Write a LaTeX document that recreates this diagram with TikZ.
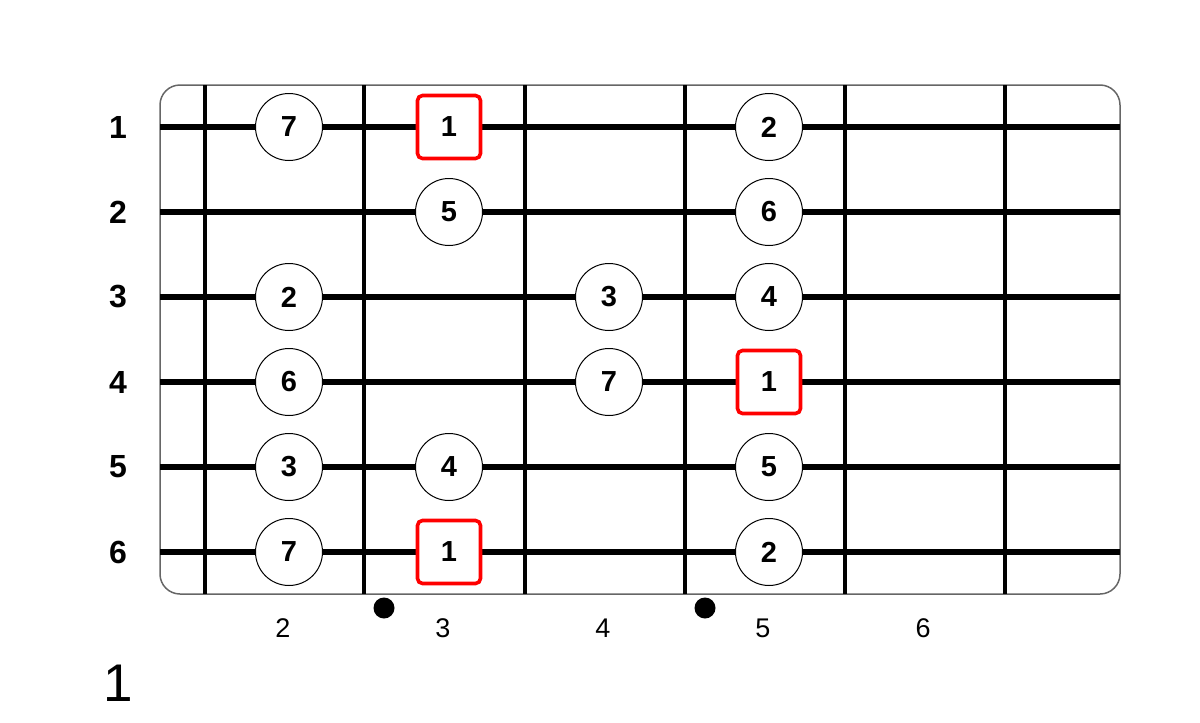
\documentclass[tikz,border=0pt]{standalone}
\usepackage{fontspec}
\setmainfont{Liberation Sans}
\begin{document}
\begin{tikzpicture}[x=1pt, y=-1pt,
    note/.style = {draw, circle, fill=white, minimum size=67pt, inner sep=0pt, line width=1pt, font=\fontsize{29}{29}\selectfont\bfseries},
    root/.style = {draw=red, rounded corners=5pt, fill=white, minimum size=63pt, inner sep=0pt, line width=3.6pt, font=\fontsize{29}{29}\selectfont\bfseries},
    string/.style = {line width=6pt},
    fret/.style = {line width=3.5pt},
    strlab/.style = {inner sep=0pt, font=\fontsize{32}{32}\selectfont\bfseries},
    fretlab/.style = {inner sep=0pt, font=\fontsize{27}{27}\selectfont},
    dot/.style = {circle, fill, minimum size=21pt, inner sep=0pt}]
    \useasboundingbox (0,0) rectangle (1200,723);

    \draw[line width=1.5pt, black!60, rounded corners=20pt] (160,85) rectangle (1120,594);

    % frets
    \coordinate (f1t) at (205,85);  \coordinate (f1b) at (205,594);
    \coordinate (f2t) at (364,85);  \coordinate (f2b) at (364,594);
    \coordinate (f3t) at (525,85);  \coordinate (f3b) at (525,594);
    \coordinate (f4t) at (685,85);  \coordinate (f4b) at (685,594);
    \coordinate (f5t) at (845,85);  \coordinate (f5b) at (845,594);
    \coordinate (f6t) at (1005,85); \coordinate (f6b) at (1005,594);
    \draw[fret] (f1t) -- (f1b);
    \draw[fret] (f2t) -- (f2b);
    \draw[fret] (f3t) -- (f3b);
    \draw[fret] (f4t) -- (f4b);
    \draw[fret] (f5t) -- (f5b);
    \draw[fret] (f6t) -- (f6b);

    % strings
    \coordinate (s1l) at (160,127); \coordinate (s1r) at (1120,127);
    \coordinate (s2l) at (160,212); \coordinate (s2r) at (1120,212);
    \coordinate (s3l) at (160,297); \coordinate (s3r) at (1120,297);
    \coordinate (s4l) at (160,382); \coordinate (s4r) at (1120,382);
    \coordinate (s5l) at (160,467); \coordinate (s5r) at (1120,467);
    \coordinate (s6l) at (160,552); \coordinate (s6r) at (1120,552);
    \draw[string] (s1l) -- (s1r);
    \draw[string] (s2l) -- (s2r);
    \draw[string] (s3l) -- (s3r);
    \draw[string] (s4l) -- (s4r);
    \draw[string] (s5l) -- (s5r);
    \draw[string] (s6l) -- (s6r);

    % string numbers
    \node[strlab] (l1) at (118,127) {1};
    \node[strlab] (l2) at (118,212) {2};
    \node[strlab] (l3) at (118,297) {3};
    \node[strlab] (l4) at (118,382) {4};
    \node[strlab] (l5) at (118,467) {5};
    \node[strlab] (l6) at (118,552) {6};

    % notes
    \node[note] (n11) at (289,127) {7};
    \node[root] (n12) at (449,127) {1};
    \node[note] (n14) at (769,127) {2};

    \node[note] (n22) at (449,212) {5};
    \node[note] (n24) at (769,212) {6};

    \node[note] (n31) at (289,297) {2};
    \node[note] (n33) at (609,297) {3};
    \node[note] (n34) at (769,297) {4};

    \node[note] (n41) at (289,382) {6};
    \node[note] (n43) at (609,382) {7};
    \node[root] (n44) at (769,382) {1};

    \node[note] (n51) at (289,467) {3};
    \node[note] (n52) at (449,467) {4};
    \node[note] (n54) at (769,467) {5};

    \node[note] (n61) at (289,552) {7};
    \node[root] (n62) at (449,552) {1};
    \node[note] (n64) at (769,552) {2};

    % fret numbers and markers
    \node[fretlab] (k2) at (283,628) {2};
    \node[fretlab] (k3) at (443,628) {3};
    \node[fretlab] (k4) at (603,628) {4};
    \node[fretlab] (k5) at (763,628) {5};
    \node[fretlab] (k6) at (923,628) {6};
    \node[dot] (d3) at (384,608) {};
    \node[dot] (d5) at (705,608) {};

    \node[inner sep=0pt, font=\fontsize{53}{53}\selectfont] (pos) at (118,683) {1};
\end{tikzpicture}
\end{document}
